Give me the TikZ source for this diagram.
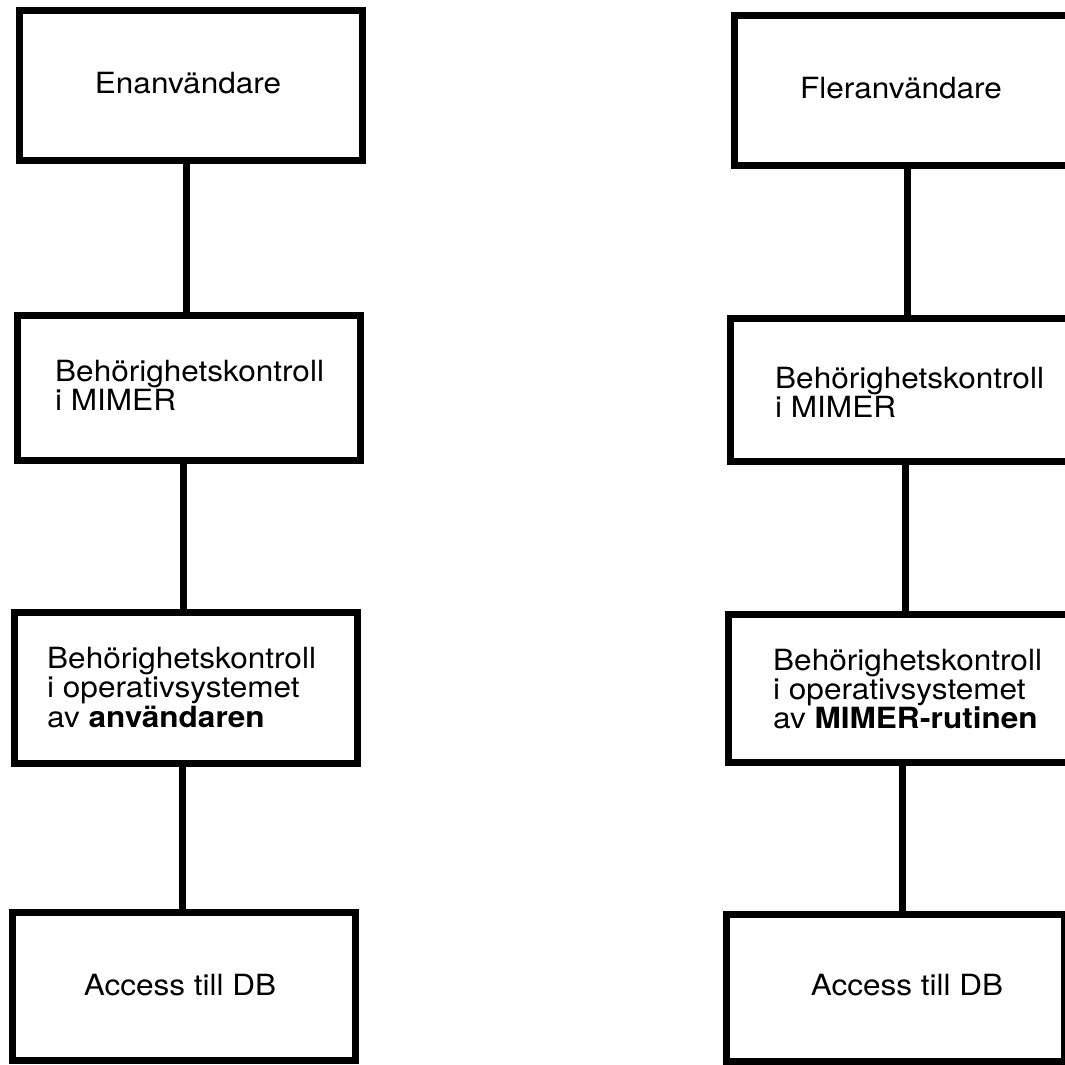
\documentclass[tikz,border=0pt]{standalone}
\usepackage{fontspec}
\setmainfont[FakeStretch=1.08]{TeX Gyre Heros}
\begin{document}
\begin{tikzpicture}[x=1pt,y=-1pt,
  box/.style={draw=black, line width=7pt, rectangle, inner sep=0pt},
  conn/.style={draw=black, line width=7pt},
  txt/.style={inner sep=0pt, text height=19pt, text depth=5pt, font=\fontsize{29.2}{29.2}\selectfont}]
\useasboundingbox (0,0) rectangle (1065,1065);
\clip (0,0) rectangle (1065,1065);
\fill[white] (0,0) rectangle (1065,1065);
% left column boxes
\node[box, minimum width=343pt, minimum height=149pt] (L1) at (190.5,85.5) {};
\node[box, minimum width=343pt, minimum height=145pt] (L2) at (188.5,387.5) {};
\node[box, minimum width=343pt, minimum height=151pt] (L3) at (185.5,687.5) {};
\node[box, minimum width=343pt, minimum height=148pt] (L4) at (183.5,986) {};
% right column boxes
\node[box, minimum width=346pt, minimum height=149pt] (R1) at (907,90.5) {};
\node[box, minimum width=350pt, minimum height=143pt] (R2) at (905,389.5) {};
\node[box, minimum width=348pt, minimum height=148pt] (R3) at (902,688) {};
\node[box, minimum width=338pt, minimum height=147pt] (R4) at (895,987.5) {};
% connectors
\draw[conn] ([xshift=-4.5pt]L1.south) -- ([xshift=-4.5pt]L1.south |- L2.north);
\draw[conn] ([xshift=-5.5pt]L2.south) -- ([xshift=-5.5pt]L2.south |- L3.north);
\draw[conn] ([xshift=-3.5pt]L3.south) -- ([xshift=-3.5pt]L3.south |- L4.north);
\draw[conn] (R1.south) -- (R1.south |- R2.north);
\draw[conn] (R2.south) -- (R2.south |- R3.north);
\draw[conn] (R3.south) -- (R3.south |- R4.north);
% left texts
\node[txt, anchor=base] (tL1) at (188,93) {Enanvändare};
\node[txt, anchor=base west] (tL2a) at (55,381) {Behörighetskontroll};
\node[txt, anchor=base west] (tL2b) at (55,410) {i MIMER};
\node[txt, anchor=base west] (tL3a) at (47,668) {Behörighetskontroll};
\node[txt, anchor=base west] (tL3b) at (47,697) {i operativsystemet};
\node[txt, anchor=base west] (tL3c) at (47,727) {av \textbf{användaren}};
\node[txt, anchor=base] (tL4) at (180,995) {Access till DB};
% right texts
\node[txt, anchor=base] (tR1) at (901,98) {Fleranvändare};
\node[txt, anchor=base west] (tR2a) at (775,388) {Behörighetskontroll};
\node[txt, anchor=base west] (tR2b) at (775,417) {i MIMER};
\node[txt, anchor=base west] (tR3a) at (773,670) {Behörighetskontroll};
\node[txt, anchor=base west] (tR3b) at (773,699) {i operativsystemet};
\node[txt, anchor=base west] (tR3c) at (773,728) {av \textbf{MIMER-rutinen}};
\node[txt, anchor=base] (tR4) at (907,995) {Access till DB};
\end{tikzpicture}
\end{document}
